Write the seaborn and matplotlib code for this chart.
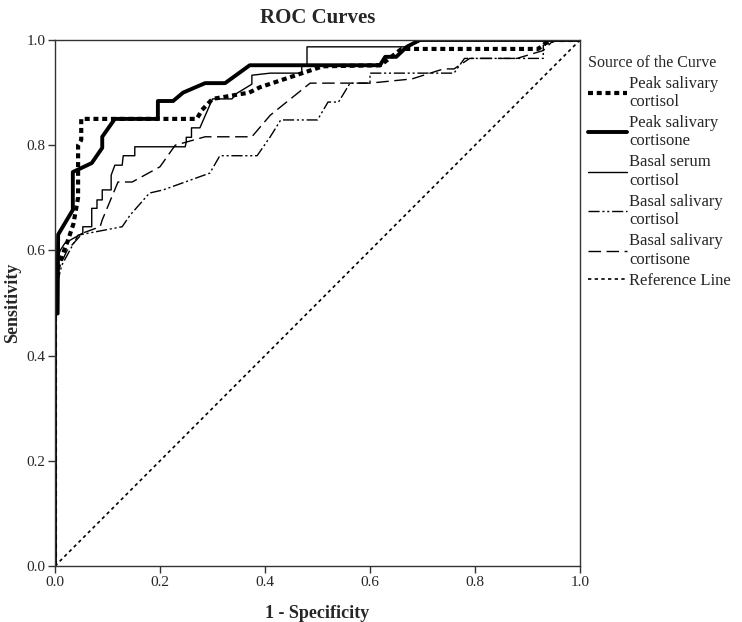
import matplotlib
matplotlib.use("Agg")
import matplotlib.pyplot as plt
import seaborn as sns

# ROC curve points (1 - specificity, sensitivity)
peak_cortisol_x = [0, 0, 0.01, 0.025, 0.035, 0.044, 0.044, 0.05, 0.05, 0.27, 0.28, 0.30,
                   0.37, 0.39, 0.51, 0.62, 0.66, 0.92, 0.93, 0.94, 1.0]
peak_cortisol_y = [0, 0.55, 0.58, 0.62, 0.65, 0.70, 0.80, 0.81, 0.85, 0.85, 0.867, 0.888,
                   0.90, 0.91, 0.95, 0.952, 0.983, 0.983, 0.99, 1.0, 1.0]

peak_cortisone_x = [0, 0, 0.005, 0.006, 0.034, 0.034, 0.07, 0.09, 0.09, 0.114, 0.196, 0.196,
                    0.225, 0.244, 0.286, 0.324, 0.371, 0.619, 0.629, 0.65, 0.67, 0.695, 1.0]
peak_cortisone_y = [0, 0.48, 0.48, 0.63, 0.677, 0.749, 0.766, 0.795, 0.816, 0.85, 0.85, 0.884,
                    0.884, 0.90, 0.918, 0.918, 0.952, 0.952, 0.968, 0.968, 0.987, 1.0, 1.0]

serum_cortisol_x = [0, 0, 0.01, 0.019, 0.053, 0.053, 0.07, 0.07, 0.08, 0.08, 0.09, 0.09,
                    0.107, 0.107, 0.114, 0.128, 0.13, 0.152, 0.152, 0.248, 0.25, 0.25, 0.26,
                    0.26, 0.276, 0.30, 0.337, 0.347, 0.375, 0.375, 0.41, 0.47, 0.47, 0.48,
                    0.48, 0.67, 0.70, 1.0]
serum_cortisol_y = [0, 0.57, 0.60, 0.614, 0.633, 0.645, 0.645, 0.68, 0.68, 0.696, 0.696, 0.715,
                    0.715, 0.743, 0.762, 0.762, 0.78, 0.78, 0.797, 0.797, 0.806, 0.815, 0.815,
                    0.833, 0.833, 0.888, 0.888, 0.899, 0.916, 0.933, 0.937, 0.937, 0.95, 0.95,
                    0.987, 0.987, 1.0, 1.0]

basal_cortisol_x = [0, 0, 0.013, 0.044, 0.128, 0.143, 0.18, 0.206, 0.295, 0.314, 0.385, 0.41,
                    0.43, 0.50, 0.52, 0.54, 0.562, 0.60, 0.60, 0.76, 0.78, 0.93, 0.93, 0.96, 1.0]
basal_cortisol_y = [0, 0.52, 0.572, 0.629, 0.645, 0.667, 0.709, 0.715, 0.747, 0.78, 0.78, 0.816,
                    0.848, 0.848, 0.882, 0.882, 0.918, 0.918, 0.937, 0.937, 0.965, 0.965, 0.99,
                    1.0, 1.0]

basal_cortisone_x = [0, 0, 0.023, 0.053, 0.086, 0.09, 0.12, 0.147, 0.20, 0.229, 0.286, 0.375,
                     0.41, 0.486, 0.60, 0.68, 0.74, 0.76, 0.79, 0.88, 0.93, 0.95, 1.0]
basal_cortisone_y = [0, 0.55, 0.60, 0.633, 0.645, 0.658, 0.73, 0.73, 0.759, 0.80, 0.816, 0.816,
                     0.857, 0.918, 0.918, 0.926, 0.945, 0.945, 0.965, 0.965, 0.98, 1.0, 1.0]

ref_x = [0, 1]
ref_y = [0, 1]

labels = ["Peak salivary\ncortisol", "Peak salivary\ncortisone", "Basal serum\ncortisol",
          "Basal salivary\ncortisol", "Basal salivary\ncortisone", "Reference Line"]
ticks = [0.0, 0.2, 0.4, 0.6, 0.8, 1.0]

sns.set_style("white")
plt.rcParams['font.family'] = ['Liberation Serif', 'DejaVu Serif']

fig = plt.figure(figsize=(7.42, 6.22), dpi=100)
ax = fig.add_axes([0.0741, 0.090, 0.7076, 0.8457])

series = [
    (peak_cortisol_x, peak_cortisol_y, 3.0, (0, (1.2, 0.9))),
    (peak_cortisone_x, peak_cortisone_y, 2.8, '-'),
    (serum_cortisol_x, serum_cortisol_y, 1.0, '-'),
    (basal_cortisol_x, basal_cortisol_y, 1.0, (0, (8, 2, 1.5, 2, 1.5, 2))),
    (basal_cortisone_x, basal_cortisone_y, 1.0, (0, (9, 4))),
    (ref_x, ref_y, 1.2, (0, (2, 2))),
]

for (xs, ys, lw, ls), lab in zip(series, labels):
    sns.lineplot(x=xs, y=ys, ax=ax, color='black', linewidth=lw, linestyle=ls,
                 sort=False, estimator=None, label=lab)

ax.set_xlim(0, 1)
ax.set_ylim(0, 1)
ax.set_xticks(ticks)
ax.set_yticks(ticks)
ax.set_xticklabels([f"{t:.1f}" for t in ticks], fontsize=11)
ax.set_yticklabels([f"{t:.1f}" for t in ticks], fontsize=11)
ax.tick_params(direction='out', length=5, width=1, color='#333333', pad=2)
ax.tick_params(axis='x', bottom=True)
ax.tick_params(axis='y', left=True)
for sp in ax.spines.values():
    sp.set_color('#333333')
    sp.set_linewidth(1.0)

ax.set_title("ROC Curves", fontsize=15, fontweight='bold', pad=12)
ax.set_xlabel("1 - Specificity", fontsize=13, fontweight='bold', labelpad=12)
ax.set_ylabel("Sensitivity", fontsize=13, fontweight='bold', labelpad=4)

leg = ax.legend(loc='upper left', bbox_to_anchor=(1.003, 0.985), frameon=False,
                title="Source of the Curve", title_fontsize=11.5, fontsize=12,
                handlelength=2.3, handletextpad=0.15, labelspacing=0.3,
                borderaxespad=0.0)
leg._legend_box.align = "left"

fig.savefig("out.png", dpi=100)
